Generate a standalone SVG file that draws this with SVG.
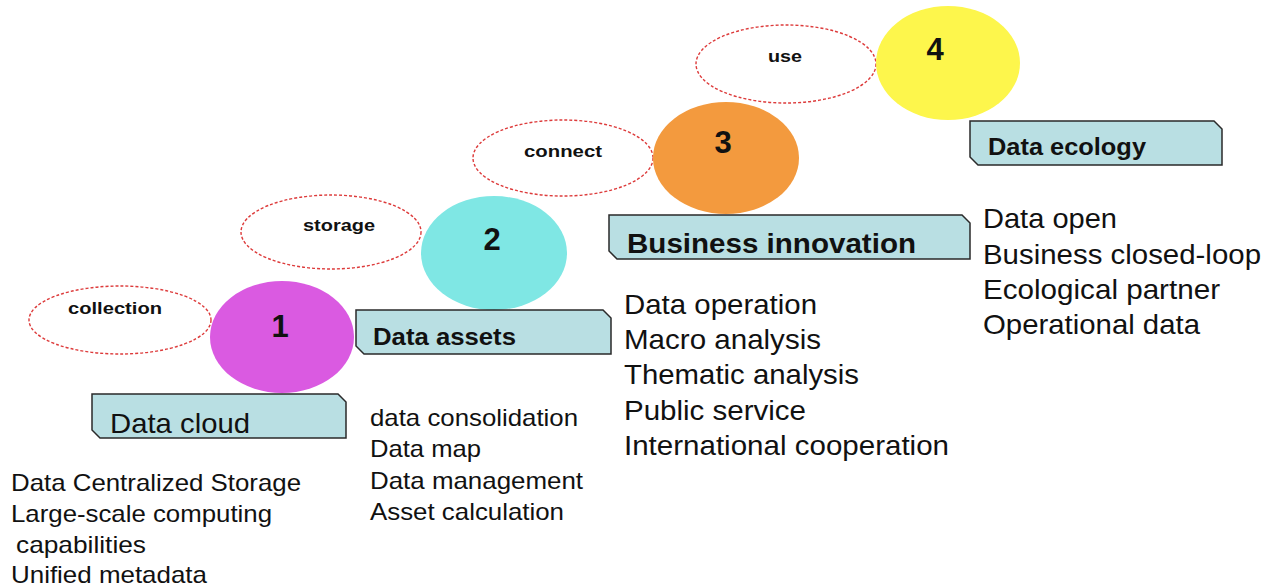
<svg xmlns="http://www.w3.org/2000/svg" width="1262" height="586" viewBox="0 0 1262 586">
<style>
text{font-family:"Liberation Sans",Arial,sans-serif;fill:#111}
.lbl{font-size:17px;font-weight:bold;text-anchor:middle}
.num{font-size:31px;font-weight:bold;text-anchor:middle}
.dash{fill:#fff;stroke:#dd3b3b;stroke-width:1.4;stroke-dasharray:3 2}
.box{fill:#b9dfe3;stroke:#2a2a2a;stroke-width:1.5}
.t{font-size:24px}
.tb{font-size:27.5px}
.h{font-weight:bold}
</style>
<rect width="1262" height="586" fill="#fff"/>

<g id="step1">
<ellipse class="dash" cx="120" cy="320" rx="91" ry="34"/>
<text class="lbl" x="115" y="314" textLength="94" lengthAdjust="spacingAndGlyphs">collection</text>
<ellipse cx="282" cy="337" rx="72" ry="56" fill="#da5ae1"/>
<text class="num" x="280" y="337">1</text>
<path class="box" d="M92,394 H338 L346,402 V438 H100 L92,430 Z"/>
<text x="110" y="433" style="font-size:28px" textLength="140" lengthAdjust="spacingAndGlyphs">Data cloud</text>
<g class="t">
<text x="11" y="491" textLength="290" lengthAdjust="spacingAndGlyphs">Data Centralized Storage</text>
<text x="11" y="522" textLength="261" lengthAdjust="spacingAndGlyphs">Large-scale computing</text>
<text x="16" y="553" textLength="130" lengthAdjust="spacingAndGlyphs">capabilities</text>
<text x="11" y="583" textLength="196" lengthAdjust="spacingAndGlyphs">Unified metadata</text>
</g>
</g>

<g id="step2">
<ellipse class="dash" cx="331" cy="232" rx="90" ry="37"/>
<text class="lbl" x="339" y="231" textLength="72" lengthAdjust="spacingAndGlyphs">storage</text>
<ellipse cx="494" cy="253" rx="73" ry="57" fill="#7fe7e4"/>
<text class="num" x="492" y="250">2</text>
<path class="box" d="M356,310 H603 L611,318 V354 H364 L356,346 Z"/>
<text class="h" x="373" y="345" style="font-size:24px" textLength="143" lengthAdjust="spacingAndGlyphs">Data assets</text>
<g class="t">
<text x="370" y="426" textLength="208" lengthAdjust="spacingAndGlyphs">data consolidation</text>
<text x="370" y="457" textLength="111" lengthAdjust="spacingAndGlyphs">Data map</text>
<text x="370" y="489" textLength="213" lengthAdjust="spacingAndGlyphs">Data management</text>
<text x="370" y="520" textLength="194" lengthAdjust="spacingAndGlyphs">Asset calculation</text>
</g>
</g>

<g id="step3">
<ellipse class="dash" cx="563" cy="158" rx="90" ry="38"/>
<text class="lbl" x="563" y="157" textLength="78" lengthAdjust="spacingAndGlyphs">connect</text>
<ellipse cx="726" cy="158" rx="73" ry="56" fill="#f39a3e"/>
<text class="num" x="723" y="153">3</text>
<path class="box" d="M609,215 H962 L970,223 V259 H617 L609,251 Z"/>
<text class="h" x="627" y="253" style="font-size:28px" textLength="289" lengthAdjust="spacingAndGlyphs">Business innovation</text>
<g class="tb">
<text x="624" y="314" textLength="193" lengthAdjust="spacingAndGlyphs">Data operation</text>
<text x="624" y="349" textLength="197" lengthAdjust="spacingAndGlyphs">Macro analysis</text>
<text x="624" y="384" textLength="235" lengthAdjust="spacingAndGlyphs">Thematic analysis</text>
<text x="624" y="420" textLength="182" lengthAdjust="spacingAndGlyphs">Public service</text>
<text x="624" y="455" textLength="325" lengthAdjust="spacingAndGlyphs">International cooperation</text>
</g>
</g>

<g id="step4">
<ellipse class="dash" cx="786" cy="64" rx="90" ry="39"/>
<text class="lbl" x="785" y="62" textLength="34" lengthAdjust="spacingAndGlyphs">use</text>
<ellipse cx="948" cy="63" rx="72" ry="57" fill="#fdf64c"/>
<text class="num" x="935" y="60">4</text>
<path class="box" d="M970,121 H1214 L1222,129 V165 H978 L970,157 Z"/>
<text class="h" x="988" y="155" style="font-size:23px" textLength="158" lengthAdjust="spacingAndGlyphs">Data ecology</text>
<g class="tb">
<text x="983" y="228" textLength="134" lengthAdjust="spacingAndGlyphs">Data open</text>
<text x="983" y="264" textLength="278" lengthAdjust="spacingAndGlyphs">Business closed-loop</text>
<text x="983" y="299" textLength="237" lengthAdjust="spacingAndGlyphs">Ecological partner</text>
<text x="983" y="334" textLength="217" lengthAdjust="spacingAndGlyphs">Operational data</text>
</g>
</g>
</svg>
